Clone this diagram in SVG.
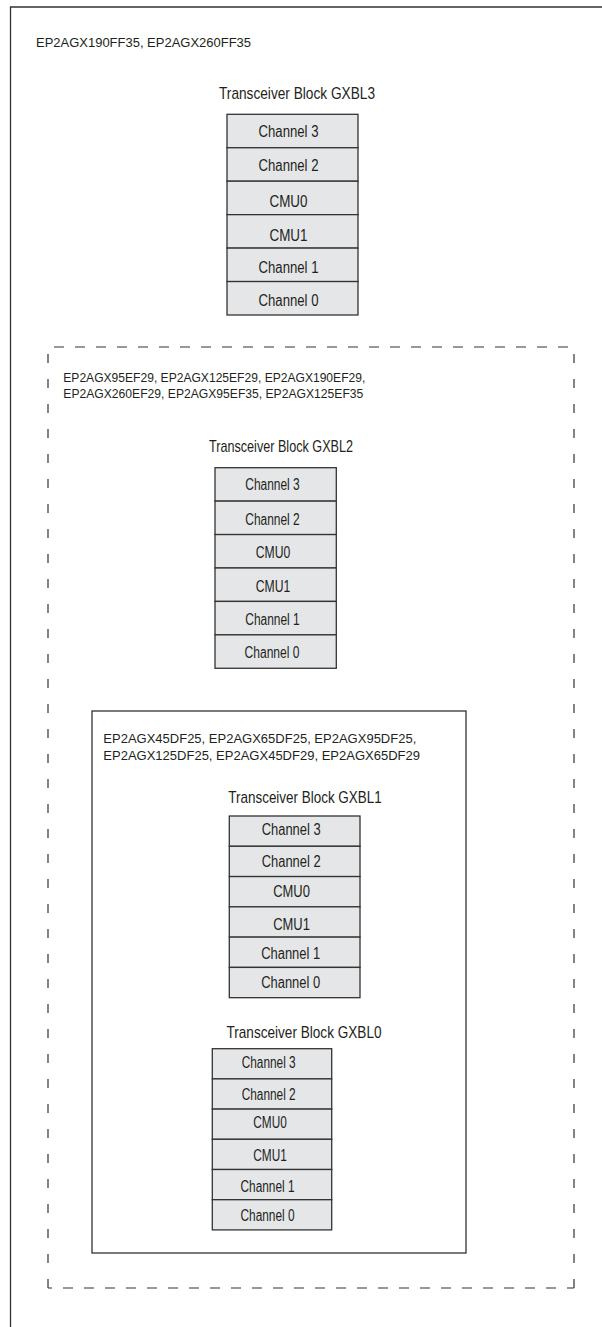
<svg xmlns="http://www.w3.org/2000/svg" width="602" height="1327" viewBox="0 0 602 1327">
<style>
.frame{fill:none;stroke:#333;stroke-width:1.3}
.dash{fill:none;stroke:#333;stroke-width:1.2}
.cell{fill:#e5e6e8;stroke:#333;stroke-width:1.3}
.t{font-family:"Liberation Sans Narrow","Arial Narrow","Liberation Sans",Arial,sans-serif;fill:#231f20;text-anchor:middle}
.dev{font-family:"Liberation Sans",Arial,sans-serif;fill:#231f20;font-size:12.5px}
.title{font-size:17px}
.lbl{font-size:16px}
</style>
<rect x="0" y="0" width="602" height="1327" fill="#fff"/>
<g id="outer-frame">
<path class="frame" d="M10.5 1327 V7 H602"/>
<text class="dev" x="36" y="47" textLength="215" lengthAdjust="spacingAndGlyphs">EP2AGX190FF35, EP2AGX260FF35</text>
</g>
<g id="GXBL3">
<text class="t title" x="297" y="99.3" textLength="156" lengthAdjust="spacingAndGlyphs">Transceiver Block GXBL3</text>
<rect class="cell" x="227" y="114.3" width="131" height="33.45"/>
<rect class="cell" x="227" y="147.75" width="131" height="33.45"/>
<rect class="cell" x="227" y="181.2" width="131" height="33.45"/>
<rect class="cell" x="227" y="214.65" width="131" height="33.45"/>
<rect class="cell" x="227" y="248.1" width="131" height="33.45"/>
<rect class="cell" x="227" y="281.55" width="131" height="33.45"/>
<text class="t lbl" x="288.5" y="136.7" textLength="60" lengthAdjust="spacingAndGlyphs">Channel 3</text>
<text class="t lbl" x="288.5" y="170.7" textLength="60" lengthAdjust="spacingAndGlyphs">Channel 2</text>
<text class="t lbl" x="288.5" y="206.5" textLength="38" lengthAdjust="spacingAndGlyphs">CMU0</text>
<text class="t lbl" x="288.5" y="240.5" textLength="38" lengthAdjust="spacingAndGlyphs">CMU1</text>
<text class="t lbl" x="288.5" y="273.3" textLength="60" lengthAdjust="spacingAndGlyphs">Channel 1</text>
<text class="t lbl" x="288.5" y="306" textLength="60" lengthAdjust="spacingAndGlyphs">Channel 0</text>
</g>
<g id="dashed-region">
<path class="dash" d="M48 347 H574" stroke-dasharray="10 11" stroke-dashoffset="15"/>
<path class="dash" d="M48 1288 H574" stroke-dasharray="10 11" stroke-dashoffset="6"/>
<path class="dash" d="M48 1288 V347" stroke-dasharray="9 16"/>
<path class="dash" d="M574 1288 V347" stroke-dasharray="9 16"/>
<text class="dev" x="63.3" y="381.7" textLength="302" lengthAdjust="spacingAndGlyphs">EP2AGX95EF29, EP2AGX125EF29, EP2AGX190EF29,</text>
<text class="dev" x="63.3" y="398.3" textLength="300" lengthAdjust="spacingAndGlyphs">EP2AGX260EF29, EP2AGX95EF35, EP2AGX125EF35</text>
</g>
<g id="GXBL2">
<text class="t title" x="281" y="451.7" textLength="144" lengthAdjust="spacingAndGlyphs">Transceiver Block GXBL2</text>
<rect class="cell" x="215" y="467.7" width="121.3" height="33.43"/>
<rect class="cell" x="215" y="501.13" width="121.3" height="33.43"/>
<rect class="cell" x="215" y="534.56" width="121.3" height="33.43"/>
<rect class="cell" x="215" y="567.99" width="121.3" height="33.43"/>
<rect class="cell" x="215" y="601.42" width="121.3" height="33.43"/>
<rect class="cell" x="215" y="634.85" width="121.3" height="33.43"/>
<text class="t lbl" x="272.5" y="490" textLength="54.5" lengthAdjust="spacingAndGlyphs">Channel 3</text>
<text class="t lbl" x="272.5" y="525" textLength="54.5" lengthAdjust="spacingAndGlyphs">Channel 2</text>
<text class="t lbl" x="273" y="558.3" textLength="34.5" lengthAdjust="spacingAndGlyphs">CMU0</text>
<text class="t lbl" x="273" y="591.7" textLength="34.5" lengthAdjust="spacingAndGlyphs">CMU1</text>
<text class="t lbl" x="272.5" y="625" textLength="54.5" lengthAdjust="spacingAndGlyphs">Channel 1</text>
<text class="t lbl" x="272" y="658.3" textLength="55" lengthAdjust="spacingAndGlyphs">Channel 0</text>
</g>
<g id="inner-region">
<rect class="frame" x="92" y="711" width="374" height="542"/>
<text class="dev" x="103.3" y="742.7" textLength="313" lengthAdjust="spacingAndGlyphs">EP2AGX45DF25, EP2AGX65DF25, EP2AGX95DF25,</text>
<text class="dev" x="103.3" y="760" textLength="316.7" lengthAdjust="spacingAndGlyphs">EP2AGX125DF25, EP2AGX45DF29, EP2AGX65DF29</text>
</g>
<g id="GXBL1">
<text class="t title" x="305" y="803.3" textLength="153.4" lengthAdjust="spacingAndGlyphs">Transceiver Block GXBL1</text>
<rect class="cell" x="229.3" y="816" width="130.7" height="30.28"/>
<rect class="cell" x="229.3" y="846.28" width="130.7" height="30.28"/>
<rect class="cell" x="229.3" y="876.56" width="130.7" height="30.28"/>
<rect class="cell" x="229.3" y="906.84" width="130.7" height="30.28"/>
<rect class="cell" x="229.3" y="937.12" width="130.7" height="30.28"/>
<rect class="cell" x="229.3" y="967.4" width="130.7" height="30.28"/>
<text class="t lbl" x="291.2" y="835" textLength="59" lengthAdjust="spacingAndGlyphs">Channel 3</text>
<text class="t lbl" x="291.2" y="866.7" textLength="59" lengthAdjust="spacingAndGlyphs">Channel 2</text>
<text class="t lbl" x="291.5" y="896.7" textLength="36.7" lengthAdjust="spacingAndGlyphs">CMU0</text>
<text class="t lbl" x="291.5" y="930" textLength="36.7" lengthAdjust="spacingAndGlyphs">CMU1</text>
<text class="t lbl" x="290.7" y="959.3" textLength="59" lengthAdjust="spacingAndGlyphs">Channel 1</text>
<text class="t lbl" x="290.7" y="988.3" textLength="59" lengthAdjust="spacingAndGlyphs">Channel 0</text>
</g>
<g id="GXBL0">
<text class="t title" x="304" y="1037.7" textLength="155" lengthAdjust="spacingAndGlyphs">Transceiver Block GXBL0</text>
<rect class="cell" x="212.3" y="1048.7" width="119.4" height="30.2"/>
<rect class="cell" x="212.3" y="1078.9" width="119.4" height="30.2"/>
<rect class="cell" x="212.3" y="1109.1" width="119.4" height="30.2"/>
<rect class="cell" x="212.3" y="1139.3" width="119.4" height="30.2"/>
<rect class="cell" x="212.3" y="1169.5" width="119.4" height="30.2"/>
<rect class="cell" x="212.3" y="1199.7" width="119.4" height="30.2"/>
<text class="t lbl" x="268.7" y="1068.3" textLength="54" lengthAdjust="spacingAndGlyphs">Channel 3</text>
<text class="t lbl" x="268.7" y="1100" textLength="54" lengthAdjust="spacingAndGlyphs">Channel 2</text>
<text class="t lbl" x="270" y="1128.3" textLength="33.5" lengthAdjust="spacingAndGlyphs">CMU0</text>
<text class="t lbl" x="270" y="1161" textLength="33.5" lengthAdjust="spacingAndGlyphs">CMU1</text>
<text class="t lbl" x="267.5" y="1191.7" textLength="54" lengthAdjust="spacingAndGlyphs">Channel 1</text>
<text class="t lbl" x="267.5" y="1221" textLength="54" lengthAdjust="spacingAndGlyphs">Channel 0</text>
</g>
<g id="connectors"></g>
</svg>
